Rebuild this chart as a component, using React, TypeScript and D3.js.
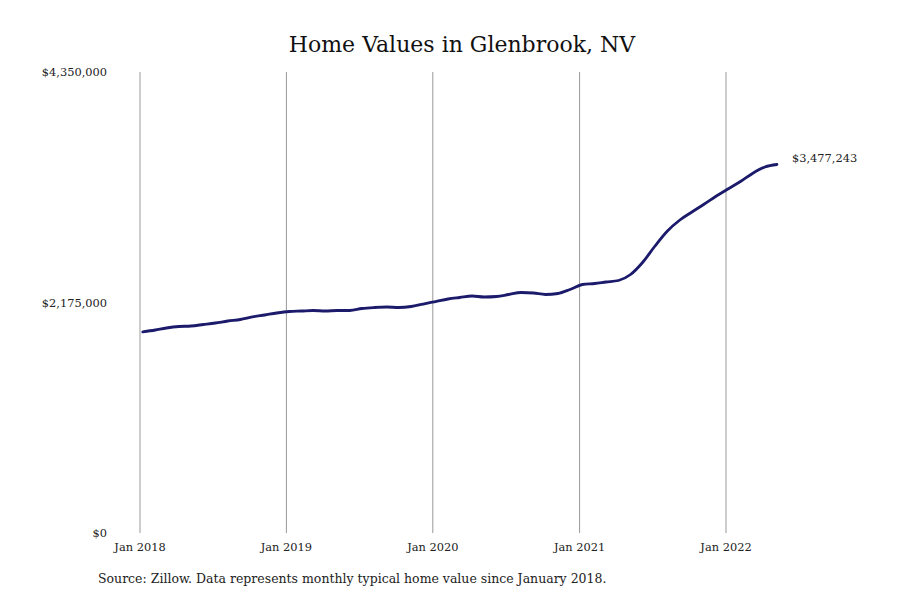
import React from "react";
import * as d3 from "d3";

const title = "Home Values in Glenbrook, NV";
const source = "Source: Zillow. Data represents monthly typical home value since January 2018.";
const startYear = 2018;
const values: number[] = [
  1897000, 1915500, 1934400, 1948500, 1953300, 1967400, 1981600, 2000400, 2014600, 2038200, 2057000, 2075900,
  2090100, 2094800, 2099500, 2094800, 2099500, 2099500, 2118400, 2127800, 2132500, 2127800, 2137300, 2160800,
  2184400, 2208000, 2222200, 2236300, 2226900, 2231600, 2250500, 2269400, 2264600, 2250500, 2259900, 2297700,
  2344800, 2354300, 2368400, 2382600, 2439200, 2557200, 2708100, 2849700, 2953500, 3029000, 3104400, 3179900,
  3250700, 3321500, 3392300, 3453600, 3477243,
];
const yTicks = [0, 2175000, 4350000];
const xTickYears = [2018, 2019, 2020, 2021, 2022];
const endLabel = "$3,477,243";

const W = 900, H = 600;
const serif = "'DejaVu Serif', serif";

export default function App() {
  const dates = values.map((_, i) => new Date(startYear, i, 8));
  const x = d3.scaleTime().domain([new Date(2018, 0, 1), new Date(2022, 0, 1)]).range([140, 726]);
  const y = d3.scaleLinear().domain([0, 4350000]).range([533, 72]);
  const line = d3.line<number>().x((_, i) => x(dates[i])).y((d) => y(d)).curve(d3.curveMonotoneX);
  const fmt = d3.format("$,");
  const last = values.length - 1;
  return (
    <div style={{ position: "fixed", left: 0, top: 0 }}>
      <svg width={W} height={H} style={{ display: "block", background: "#fff" }}>
        <text x={462} y={52} textAnchor="middle" fontFamily={serif} fontSize={22} fill="#111">{title}</text>
        {xTickYears.map((yr) => (
          <g key={yr}>
            <line x1={x(new Date(yr, 0, 1))} x2={x(new Date(yr, 0, 1))} y1={72} y2={533} stroke="#999" strokeWidth={1} />
            <text x={x(new Date(yr, 0, 1))} y={551} textAnchor="middle" fontFamily={serif} fontSize={11.4} fill="#222">Jan {yr}</text>
          </g>
        ))}
        {yTicks.map((t) => (
          <text key={t} x={107} y={y(t) + 4} textAnchor="end" fontFamily={serif} fontSize={11.4} fill="#222">{fmt(t)}</text>
        ))}
        <path d={line(values) || ""} fill="none" stroke="#1b1a6b" strokeWidth={2.8} strokeLinejoin="round" strokeLinecap="round" />
        <text x={x(dates[last]) + 15} y={y(values[last]) - 2} fontFamily={serif} fontSize={11.4} fill="#222">{endLabel}</text>
        <text x={98} y={583} fontFamily={serif} fontSize={12.5} fill="#222">{source}</text>
      </svg>
    </div>
  );
}
